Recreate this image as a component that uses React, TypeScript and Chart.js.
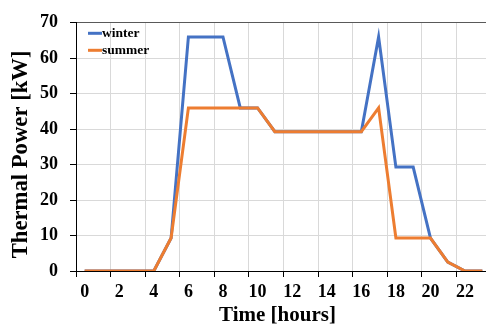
import { useEffect, useRef } from 'react';
import { Chart, registerables } from 'chart.js';

Chart.register(...registerables);

// Hourly thermal power demand profile [kW]
const hours = ['0', '1', '2', '3', '4', '5', '6', '7', '8', '9', '10', '11', '12', '13', '14', '15', '16', '17', '18', '19', '20', '21', '22', '23'];
const winter = [0, 0, 0, 0, 0, 9.3, 66, 66, 66, 46, 46, 39.3, 39.3, 39.3, 39.3, 39.3, 39.3, 66, 29.3, 29.3, 9.3, 2.5, 0, 0];
const summer = [0, 0, 0, 0, 0, 9.3, 46, 46, 46, 46, 46, 39.3, 39.3, 39.3, 39.3, 39.3, 39.3, 46, 9.3, 9.3, 9.3, 2.5, 0, 0];
const seriesNames = ['winter', 'summer'];
const seriesColors = ['#4472C4', '#ED7D31'];
const xTitle = 'Time [hours]';
const yTitle = 'Thermal Power [kW]';

const FONT = "'Liberation Serif', 'Times New Roman', serif";

// Legend inside the plot area and both axis titles
const overlayPlugin = {
  id: 'overlay',
  afterDraw(chart: any) {
    const { ctx, chartArea: a } = chart;
    ctx.save();
    ctx.font = `bold 13.5px ${FONT}`;
    ctx.textBaseline = 'middle';
    ctx.textAlign = 'left';
    seriesNames.forEach((name, i) => {
      const y = a.top + 10.5 + i * 17;
      ctx.strokeStyle = seriesColors[i];
      ctx.lineWidth = 3;
      ctx.beginPath();
      ctx.moveTo(a.left + 12, y);
      ctx.lineTo(a.left + 26, y);
      ctx.stroke();
      ctx.fillStyle = '#000';
      ctx.fillText(name, a.left + 26, y + 0.5);
    });

    ctx.fillStyle = '#000';
    ctx.textAlign = 'center';
    ctx.textBaseline = 'alphabetic';
    ctx.font = `bold 21px ${FONT}`;
    ctx.fillText(xTitle, (a.left + a.right) / 2 - 6, a.bottom + 49.7);

    ctx.font = `bold 22.7px ${FONT}`;
    ctx.translate(a.left - 48.7, (a.top + a.bottom) / 2 + 7.5);
    ctx.rotate(-Math.PI / 2);
    ctx.fillText(yTitle, 0, 0);
    ctx.restore();
  },
};

export default function App() {
  const canvasRef = useRef<HTMLCanvasElement>(null);

  useEffect(() => {
    const canvas = canvasRef.current;
    if (!canvas) return;
    const chart = new Chart(canvas, {
      type: 'line',
      data: {
        labels: hours,
        datasets: [
          {
            label: seriesNames[0],
            data: winter,
            borderColor: seriesColors[0],
            backgroundColor: seriesColors[0],
            borderWidth: 3,
            pointRadius: 0,
            tension: 0,
            order: 1,
          },
          {
            label: seriesNames[1],
            data: summer,
            borderColor: seriesColors[1],
            backgroundColor: seriesColors[1],
            borderWidth: 3,
            pointRadius: 0,
            tension: 0,
            order: 0,
          },
        ],
      },
      options: {
        responsive: false,
        maintainAspectRatio: false,
        animation: false,
        layout: { padding: { top: 19, left: 0, right: 0, bottom: 0 } },
        plugins: {
          legend: { display: false },
          tooltip: { enabled: false },
        },
        scales: {
          x: {
            type: 'category',
            offset: true,
            grid: {
              offset: true,
              color: (c: any) => (c.index % 2 === 0 ? '#d9d9d9' : 'rgba(0,0,0,0)'),
              tickColor: (c: any) => (c.index % 2 === 0 ? '#000' : 'rgba(0,0,0,0)'),
              tickLength: 6,
              lineWidth: 1,
            },
            border: { color: '#000', width: 1 },
            ticks: {
              autoSkip: false,
              maxRotation: 0,
              minRotation: 0,
              color: '#000',
              padding: 5,
              font: { family: FONT, size: 18, weight: 'bold' },
              callback: (_v: any, i: number) => (i % 2 === 0 ? hours[i] : ''),
            },
            afterFit: (s: any) => {
              s.height = 54;
            },
          },
          y: {
            min: 0,
            max: 70,
            grid: {
              color: (c: any) => (c.tick && c.tick.value === 70 ? '#595959' : '#d9d9d9'),
              tickColor: '#000',
              tickLength: 6,
              lineWidth: 1,
            },
            border: { color: '#000', width: 1 },
            ticks: {
              stepSize: 10,
              color: '#000',
              padding: 12,
              font: { family: FONT, size: 18, weight: 'bold' },
            },
            afterFit: (s: any) => {
              s.width = 76;
            },
          },
        },
      },
      plugins: [overlayPlugin],
    });
    return () => chart.destroy();
  }, []);

  return (
    <div style={{ position: 'fixed', left: 0, top: 0, width: 486, height: 325, overflow: 'hidden', background: '#fff' }}>
      <canvas ref={canvasRef} width={491} height={325} style={{ display: 'block' }} />
    </div>
  );
}
